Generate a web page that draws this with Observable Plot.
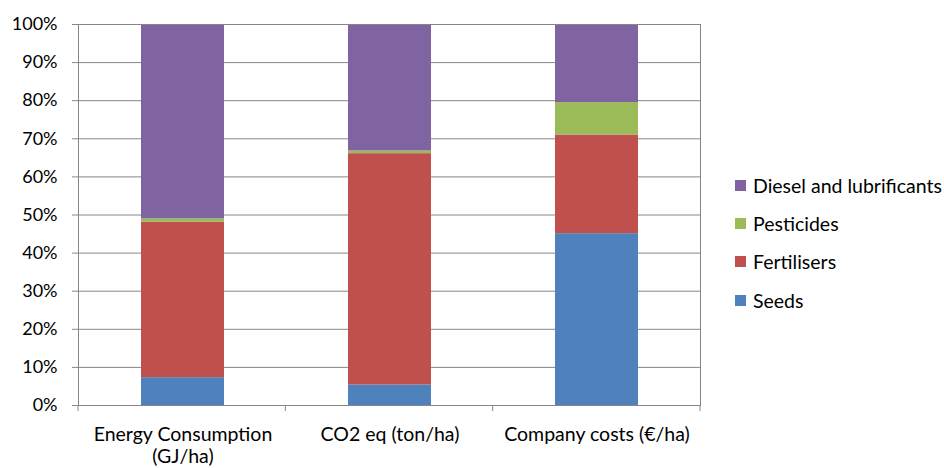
<!DOCTYPE html>
<html>
<head>
<meta charset="utf-8">
<script src="https://cdn.jsdelivr.net/npm/d3@7"></script>
<script src="https://cdn.jsdelivr.net/npm/@observablehq/plot@0.6"></script>
<style>
  html, body { margin: 0; padding: 0; background: #fff; }
  #wrap { position: relative; width: 944px; height: 468px; font-family: Lato, "Open Sans", sans-serif; }
  #legend { position: absolute; left: 735px; top: 166px; font-size: 19.5px; color: #000; white-space: nowrap; }
  .item { display: flex; align-items: center; height: 38.3px; }
  .sw { width: 11px; height: 11px; margin-right: 7px; flex: none; }
</style>
</head>
<body>
<div id="wrap"></div>
<script>
const categories = ["Energy Consumption (GJ/ha)", "CO2 eq (ton/ha)", "Company costs (€/ha)"];
const categoryLabels = ["Energy Consumption\n(GJ/ha)", "CO2 eq (ton/ha)", "Company costs (€/ha)"];
const seriesNames = ["Seeds", "Fertilisers", "Pesticides", "Diesel and lubrificants"];
const seriesColors = ["#4F81BD", "#C0504D", "#9BBB59", "#8064A2"];
const seeds = [7.3, 5.4, 45.1];
const fertilisers = [40.8, 60.7, 25.9];
const pesticides = [0.9, 0.7, 8.5];
const diesel = [51.0, 33.2, 20.5];
const yTicks = [0, 10, 20, 30, 40, 50, 60, 70, 80, 90, 100];

const seriesValues = [seeds, fertilisers, pesticides, diesel];
const data = [];
seriesNames.forEach((s, si) => {
  categories.forEach((c, ci) => data.push({category: c, series: s, value: seriesValues[si][ci]}));
});

const gridColor = "#868686";

// boundary tick marks under the category axis
function boundaryTicks(index, scales, values, dim) {
  const g = d3.create("svg:g");
  const step = (dim.width - dim.marginLeft - dim.marginRight) / categories.length;
  const y0 = dim.height - dim.marginBottom;
  for (let i = 0; i <= categories.length; i++) {
    const x = dim.marginLeft + i * step;
    g.append("line").attr("x1", x).attr("x2", x).attr("y1", y0).attr("y2", y0 + 6)
      .attr("stroke", gridColor).attr("stroke-width", 1);
  }
  return g.node();
}

const chart = Plot.plot({
  width: 944,
  height: 468,
  marginTop: 24,
  marginBottom: 63,
  marginLeft: 78,
  marginRight: 244,
  style: {fontFamily: "Lato, 'Open Sans', sans-serif", fontSize: "18px", color: "#000", background: "#fff"},
  x: {domain: categories, paddingInner: 0.6, paddingOuter: 0.3, label: null},
  y: {domain: [0, 100], label: null},
  color: {domain: seriesNames, range: seriesColors},
  marks: [
    Plot.gridY(yTicks, {stroke: gridColor, strokeOpacity: 1}),
    Plot.barY(data, {x: "category", y: "value", fill: "series"}),
    Plot.frame({stroke: gridColor, strokeOpacity: 1}),
    Plot.axisY(yTicks, {tickSize: 6, tickPadding: 15, tickFormat: d => d + "%", stroke: gridColor, strokeOpacity: 1, fill: "#000", label: null}),
    Plot.axisX(categories, {tickSize: 0, tickPadding: 20, fontSize: 19.5, tickFormat: d => categoryLabels[categories.indexOf(d)], lineHeight: 1.12, fill: "#000", label: null}),
    boundaryTicks
  ]
});

const wrap = document.getElementById("wrap");
wrap.appendChild(chart);

const legend = document.createElement("div");
legend.id = "legend";
for (let i = seriesNames.length - 1; i >= 0; i--) {
  const item = document.createElement("div");
  item.className = "item";
  const sw = document.createElement("span");
  sw.className = "sw";
  sw.style.background = seriesColors[i];
  const t = document.createElement("span");
  t.textContent = seriesNames[i];
  item.appendChild(sw);
  item.appendChild(t);
  legend.appendChild(item);
}
wrap.appendChild(legend);
</script>
</body>
</html>
